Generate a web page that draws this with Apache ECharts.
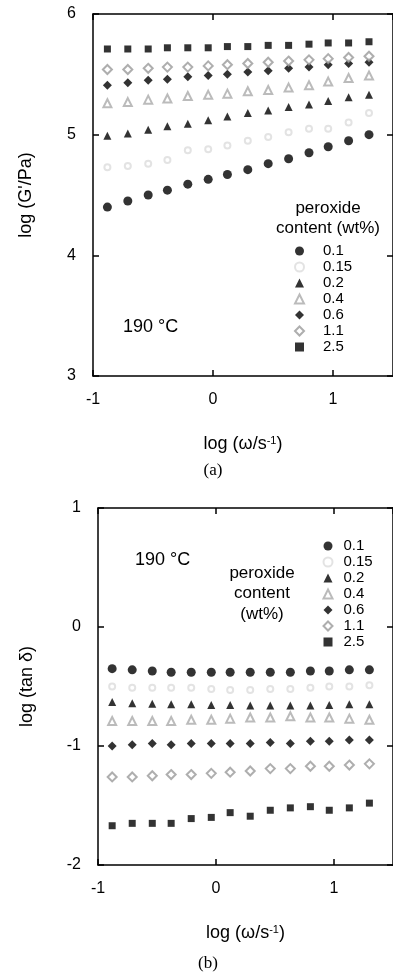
<!DOCTYPE html>
<html>
<head>
<meta charset="utf-8">
<script src="https://cdn.jsdelivr.net/npm/echarts@6/dist/echarts.min.js"></script>
<style>
  html, body { margin: 0; padding: 0; background: #fff; }
  #chart { width: 393px; height: 976px; }
</style>
</head>
<body>
<div id="chart"></div>
<script>
// x values: log(omega / s^-1)
var logOmega = [-0.88, -0.71, -0.54, -0.38, -0.21, -0.04, 0.12, 0.29, 0.46, 0.63, 0.80, 0.96, 1.13, 1.30];
var contents = ['0.1', '0.15', '0.2', '0.4', '0.6', '1.1', '2.5'];

// panel (a): log(G'/Pa)
var gp_01  = [4.40, 4.45, 4.50, 4.54, 4.59, 4.63, 4.67, 4.71, 4.76, 4.80, 4.85, 4.90, 4.95, 5.00];
var gp_015 = [4.73, 4.74, 4.76, 4.79, 4.87, 4.88, 4.91, 4.95, 4.98, 5.02, 5.05, 5.05, 5.10, 5.18];
var gp_02  = [4.99, 5.01, 5.04, 5.07, 5.09, 5.12, 5.15, 5.18, 5.20, 5.23, 5.25, 5.28, 5.31, 5.33];
var gp_04  = [5.26, 5.27, 5.29, 5.30, 5.32, 5.33, 5.34, 5.36, 5.37, 5.39, 5.41, 5.44, 5.47, 5.49];
var gp_06  = [5.41, 5.43, 5.45, 5.46, 5.48, 5.49, 5.50, 5.52, 5.53, 5.55, 5.56, 5.58, 5.59, 5.60];
var gp_11  = [5.54, 5.54, 5.55, 5.56, 5.56, 5.57, 5.58, 5.59, 5.60, 5.61, 5.62, 5.63, 5.64, 5.65];
var gp_25  = [5.71, 5.71, 5.71, 5.72, 5.72, 5.72, 5.73, 5.73, 5.74, 5.74, 5.75, 5.76, 5.76, 5.77];

// panel (b): log(tan delta)
var td_01  = [-0.35, -0.36, -0.37, -0.38, -0.38, -0.38, -0.38, -0.38, -0.38, -0.38, -0.37, -0.37, -0.36, -0.36];
var td_015 = [-0.50, -0.51, -0.51, -0.51, -0.51, -0.52, -0.53, -0.53, -0.52, -0.52, -0.51, -0.50, -0.50, -0.49];
var td_02  = [-0.63, -0.64, -0.645, -0.65, -0.65, -0.655, -0.655, -0.66, -0.66, -0.66, -0.66, -0.655, -0.65, -0.65];
var td_04  = [-0.79, -0.79, -0.79, -0.79, -0.78, -0.78, -0.77, -0.76, -0.76, -0.75, -0.76, -0.76, -0.77, -0.78];
var td_06  = [-1.00, -0.99, -0.98, -0.99, -0.98, -0.98, -0.98, -0.98, -0.97, -0.98, -0.96, -0.96, -0.95, -0.95];
var td_11  = [-1.26, -1.26, -1.25, -1.24, -1.24, -1.23, -1.22, -1.21, -1.19, -1.19, -1.17, -1.17, -1.16, -1.15];
var td_25  = [-1.67, -1.65, -1.65, -1.65, -1.61, -1.60, -1.56, -1.59, -1.54, -1.52, -1.51, -1.54, -1.52, -1.48];

var valuesA = [gp_01, gp_015, gp_02, gp_04, gp_06, gp_11, gp_25];
var valuesB = [td_01, td_015, td_02, td_04, td_06, td_11, td_25];

var symbols = ['circle', 'emptyCircle', 'triangle', 'emptyTriangle', 'diamond', 'emptyDiamond', 'rect'];
var sizes = [9, 6, 8, 8, 9, 9, 7];
var colors = ['#000', '#dcdcdc', '#000', '#aaa', '#000', '#9a9a9a', '#000'];

var font = '"Liberation Sans", Arial, sans-serif';

function pairs(vals) {
    return logOmega.map(function (x, i) { return [x, vals[i]]; });
}

var series = [];
contents.forEach(function (name, k) {
    series.push({
        name: name, type: 'scatter', xAxisIndex: 0, yAxisIndex: 0,
        symbol: symbols[k], symbolSize: sizes[k],
        itemStyle: { color: colors[k], borderWidth: 1 },
        data: pairs(valuesA[k])
    });
    series.push({
        name: name, type: 'scatter', xAxisIndex: 2, yAxisIndex: 2,
        symbol: symbols[k], symbolSize: sizes[k],
        itemStyle: { color: colors[k], borderWidth: 1 },
        data: pairs(valuesB[k])
    });
});

function xAx(grid, pos, nameTxt) {
    return {
        type: 'value', gridIndex: grid, position: pos,
        min: -1, max: 1.5, interval: 1,
        name: nameTxt, nameLocation: 'middle', nameGap: 59,
        nameTextStyle: {
            fontFamily: font, fontSize: 18, color: '#000',
            rich: { sup: { fontFamily: font, fontSize: 11, color: '#000', verticalAlign: 'top', padding: [0, 0, 7, 0] } }
        },
        axisLine: { show: true, onZero: false, lineStyle: { color: '#000', width: 1.5 } },
        axisTick: { show: true, inside: true, length: 6, lineStyle: { color: '#000', width: 1.5 } },
        axisLabel: { show: pos === 'bottom', showMaxLabel: false, margin: 16, fontFamily: font, fontSize: 16, color: '#000' },
        splitLine: { show: false }
    };
}

function yAx(grid, pos, lo, hi, nameTxt, gap) {
    return {
        type: 'value', gridIndex: grid, position: pos,
        min: lo, max: hi, interval: 1,
        name: nameTxt, nameLocation: 'middle', nameGap: gap,
        nameTextStyle: { fontFamily: font, fontSize: 18, color: '#000' },
        axisLine: { show: true, onZero: false, lineStyle: { color: '#000', width: 1.5 } },
        axisTick: { show: true, inside: true, length: 6, lineStyle: { color: '#000', width: 1.5 } },
        axisLabel: { show: pos === 'left', margin: 17, fontFamily: font, fontSize: 16, color: '#000' },
        splitLine: { show: false }
    };
}

var chartDom = document.getElementById('chart');
var myChart = echarts.init(chartDom);
var option = {
    animation: false,
    grid: [
        { left: 93, top: 14, height: 362, right: -6 },
        { left: 98, top: 508, height: 357, right: -6 }
    ],
    xAxis: [
        xAx(0, 'bottom', 'log (ω/s{sup|-1})'),
        xAx(0, 'top', ''),
        xAx(1, 'bottom', 'log (ω/s{sup|-1})'),
        xAx(1, 'top', '')
    ],
    yAxis: [
        yAx(0, 'left', 3, 6, "log (G'/Pa)", 58),
        yAx(0, 'right', 3, 6, '', 0),
        yAx(1, 'left', -2, 1, 'log (tan δ)', 62),
        yAx(1, 'right', -2, 1, '', 0)
    ],
    legend: [
        {
            data: contents, orient: 'vertical', left: 294, top: 243.5, padding: 0,
            itemWidth: 9, itemHeight: 9, itemGap: 1,
            textStyle: { fontFamily: font, fontSize: 15, color: '#000', padding: [0, 0, 0, 14] }
        },
        {
            data: contents, orient: 'vertical', left: 322.5, top: 538.5, padding: 0,
            itemWidth: 9, itemHeight: 9, itemGap: 1,
            textStyle: { fontFamily: font, fontSize: 15, color: '#000', padding: [0, 0, 0, 6] }
        }
    ],
    graphic: [
        { type: 'text', left: 123, top: 318, style: { text: '190 °C', font: '18px ' + font, fill: '#000' } },
        { type: 'text', x: 328, y: 198, style: { text: 'peroxide\ncontent (wt%)', font: '17px ' + font, fill: '#000', align: 'center', lineHeight: 20 } },
        { type: 'text', x: 213, y: 462, style: { text: '(a)', font: '17px "Liberation Serif", serif', fill: '#000', align: 'center' } },
        { type: 'text', left: 135, top: 551, style: { text: '190 °C', font: '18px ' + font, fill: '#000' } },
        { type: 'text', x: 262, y: 563, style: { text: 'peroxide\ncontent\n(wt%)', font: '17px ' + font, fill: '#000', align: 'center', lineHeight: 20.5 } },
        { type: 'text', x: 208, y: 955, style: { text: '(b)', font: '17px "Liberation Serif", serif', fill: '#000', align: 'center' } }
    ],
    series: series
};
option && myChart.setOption(option);
</script>
</body>
</html>
